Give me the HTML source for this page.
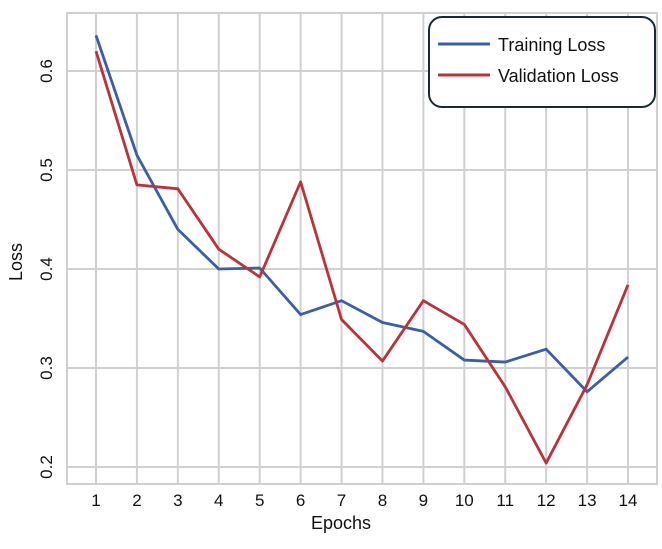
<!DOCTYPE html>
<html><head><meta charset="utf-8"><style>
body{margin:0;background:#fff;}
svg text{font-family:"Liberation Sans",sans-serif;fill:#111;}
</style></head><body>
<svg id="chart" width="662" height="544" viewBox="0 0 662 544" xmlns="http://www.w3.org/2000/svg">
<g id="grid"></g>
<rect x="67" y="13" width="590" height="471" fill="none" stroke="#cfcfcf" stroke-width="2"/>
<g id="xt"></g>
<g id="yt"></g>
<g id="lines"></g>
<text x="341" y="529" font-size="18" text-anchor="middle">Epochs</text>
<text transform="translate(22,262) rotate(-90)" font-size="18" text-anchor="middle">Loss</text>
<g>
<rect x="429" y="17" width="226" height="90" rx="13" fill="#fff" stroke="#1a2a33" stroke-width="2"/>
<line x1="438" y1="44" x2="490" y2="44" stroke="#3a5fa5" stroke-width="3"/>
<text x="498" y="51" font-size="18">Training Loss</text>
<line x1="438" y1="75" x2="490" y2="75" stroke="#b8333a" stroke-width="3"/>
<text x="498" y="82" font-size="18">Validation Loss</text>
</g>
</svg>
<script>
const epochs=[1,2,3,4,5,6,7,8,9,10,11,12,13,14];
const trainingLoss=[0.636,0.515,0.44,0.40,0.401,0.354,0.368,0.346,0.337,0.308,0.306,0.319,0.276,0.311];
const validationLoss=[0.620,0.485,0.481,0.42,0.392,0.488,0.349,0.307,0.368,0.344,0.281,0.204,0.283,0.384];
const yTicks=[0.2,0.3,0.4,0.5,0.6];
const NS="http://www.w3.org/2000/svg";
const xs=e=>96+(e-1)*(628-96)/13;
const ys=v=>467-(v-0.2)*(467-71)/0.4;
const g=document.getElementById('grid'),xt=document.getElementById('xt'),yt=document.getElementById('yt'),L=document.getElementById('lines');
function mk(t,a,p){const el=document.createElementNS(NS,t);for(const k in a)el.setAttribute(k,a[k]);p.appendChild(el);return el;}
epochs.forEach(e=>{
 const l=mk('line',{x1:xs(e),x2:xs(e),y1:13,y2:484,stroke:'#d0d0d0','stroke-width':2},g);
 
 
 const t=mk('text',{x:xs(e),y:506,'font-size':17,'text-anchor':'middle'},xt);
 t.textContent=e;
 
 
});
yTicks.forEach(v=>{
 const l=mk('line',{x1:67,x2:657,y1:ys(v),y2:ys(v),stroke:'#d0d0d0','stroke-width':2},g);
 
 
 const t=mk('text',{transform:`translate(52,${ys(v)}) rotate(-90)`,'font-size':17,'text-anchor':'middle'},yt);
 t.textContent=v.toFixed(1);
 
 
});
function line(d,c,n){const p=mk('polyline',{points:d.map((v,i)=>xs(epochs[i])+','+ys(v)).join(' '),fill:'none',stroke:c,'stroke-width':2.8,'stroke-linejoin':'round'},L);
 
 }
line(trainingLoss,'#3a5fa5','training-loss-line');
line(validationLoss,'#b8333a','validation-loss-line');
</script>
</body></html>
